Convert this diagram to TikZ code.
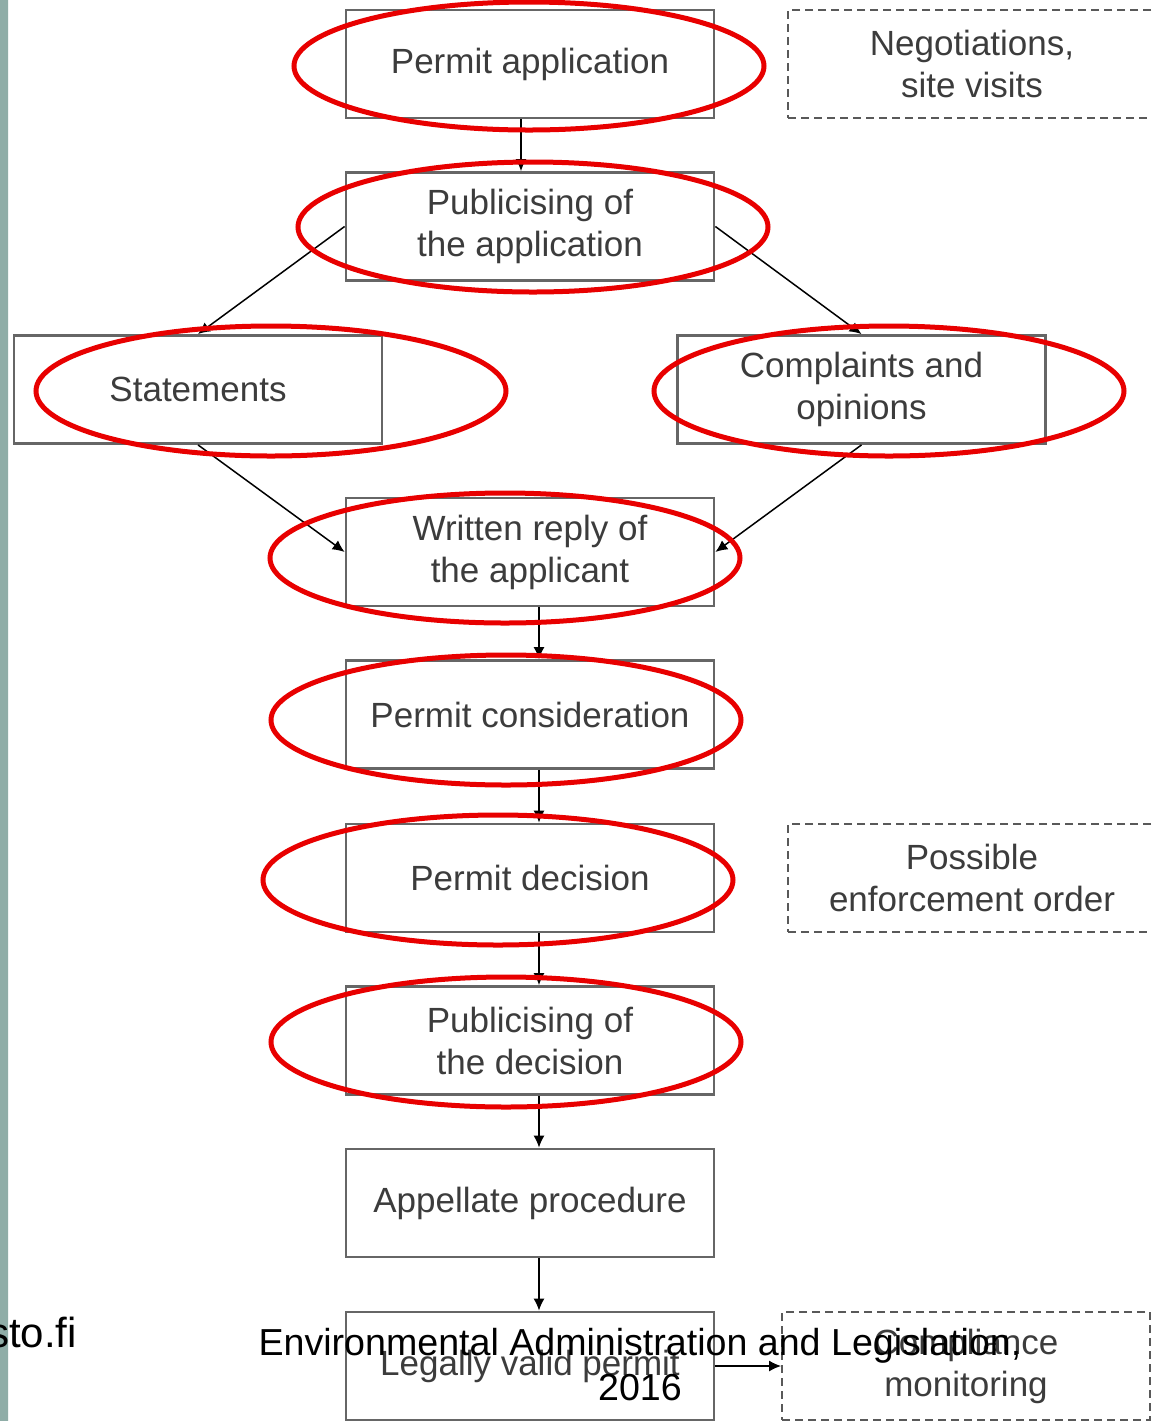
\documentclass[tikz,border=0pt]{standalone}
\usepackage{fontspec}
\setmainfont{Liberation Sans}
\usetikzlibrary{arrows.meta}
\definecolor{boxline}{HTML}{666666}
\definecolor{boxtext}{HTML}{3C3C3C}
\definecolor{ellred}{HTML}{E80000}
\definecolor{stripetop}{HTML}{8FADA7}
\definecolor{stripemid}{HTML}{B0D8D6}
\begin{document}
\begin{tikzpicture}[x=0.5pt,y=-0.5pt,
 box/.style={draw=boxline, line width=1.4pt, minimum width=184pt, minimum height=54pt, inner sep=0pt, align=center, text=boxtext, font=\fontsize{17.5}{21}\selectfont},
 dbox/.style={box, draw=black!65, line width=0.9pt, dash pattern=on 4pt off 2.5pt},
 arr/.style={draw=black, line width=0.75pt, -{Latex[length=6pt,width=5.5pt]}},
 ring/.style={draw=ellred, line width=2.5pt},
 foot/.style={font=\fontsize{18.8}{22.5}\selectfont, text=black, anchor=base}
]
\useasboundingbox (0,0) rectangle (1152,1421);
\clip (0,0) rectangle (1152,1421);
\fill[white] (0,0) rectangle (1152,1421);
\shade[top color=stripetop, middle color=stripemid, bottom color=stripetop] (0,0) rectangle (8,1421);

\node[box] (pa) at (530,64) {Permit application};
\node[box] (pub1) at (530,226.5) {Publicising of\\the application};
\node[box] (st) at (198,389.5) {Statements};
\node[box] (co) at (861.5,389.5) {Complaints and\\opinions};
\node[box] (wr) at (530,552) {Written reply of\\the applicant};
\node[box] (pc) at (530,714.5) {Permit consideration};
\node[box] (pd) at (530,878) {Permit decision};
\node[box] (pub2) at (530,1040.5) {Publicising of\\the decision};
\node[box] (ap) at (530,1203) {Appellate procedure};
\node[box] (lv) at (530,1366) {Legally valid permit};
\node[dbox] (ne) at (972,64) {Negotiations,\\site visits};
\node[dbox] (en) at (972,878) {Possible\\enforcement order};
\node[dbox] (cm) at (966,1366) {Compliance\\monitoring};

\draw[arr] ([xshift=-4.5pt]pa.south) -- ([xshift=-4.5pt]pub1.north);
\draw[arr] (pub1.west) -- (st.north);
\draw[arr] (pub1.east) -- (co.north);
\draw[arr] (st.south) -- (wr.west);
\draw[arr] (co.south) -- (wr.east);
\draw[arr] ([xshift=4.5pt]wr.south) -- ([xshift=4.5pt]pc.north);
\draw[arr] ([xshift=4.5pt]pc.south) -- ([xshift=4.5pt]pd.north);
\draw[arr] ([xshift=4.5pt]pd.south) -- ([xshift=4.5pt]pub2.north);
\draw[arr] ([xshift=4.5pt]pub2.south) -- ([xshift=4.5pt]ap.north);
\draw[arr] ([xshift=4.5pt]ap.south) -- ([xshift=4.5pt]lv.north);
\draw[arr] (lv.east) -- (cm.west);

\draw[ring] (529,66) ellipse [x radius=235, y radius=64];
\draw[ring] (533,227) ellipse [x radius=235, y radius=65];
\draw[ring] (271,391) ellipse [x radius=235, y radius=65];
\draw[ring] (889,391) ellipse [x radius=235, y radius=65];
\draw[ring] (505,558) ellipse [x radius=235, y radius=65];
\draw[ring] (506,720) ellipse [x radius=235, y radius=65];
\draw[ring] (498,880) ellipse [x radius=235, y radius=65];
\draw[ring] (506,1042) ellipse [x radius=235, y radius=65];

\node[foot, font=\fontsize{21}{24}\selectfont, anchor=base east] (url) at (84,1347) {sto.fi};
\node[foot] (ft1) at (640,1355) {Environmental Administration and Legislation,};
\node[foot] (ft2) at (640,1400) {2016};
\end{tikzpicture}
\end{document}
